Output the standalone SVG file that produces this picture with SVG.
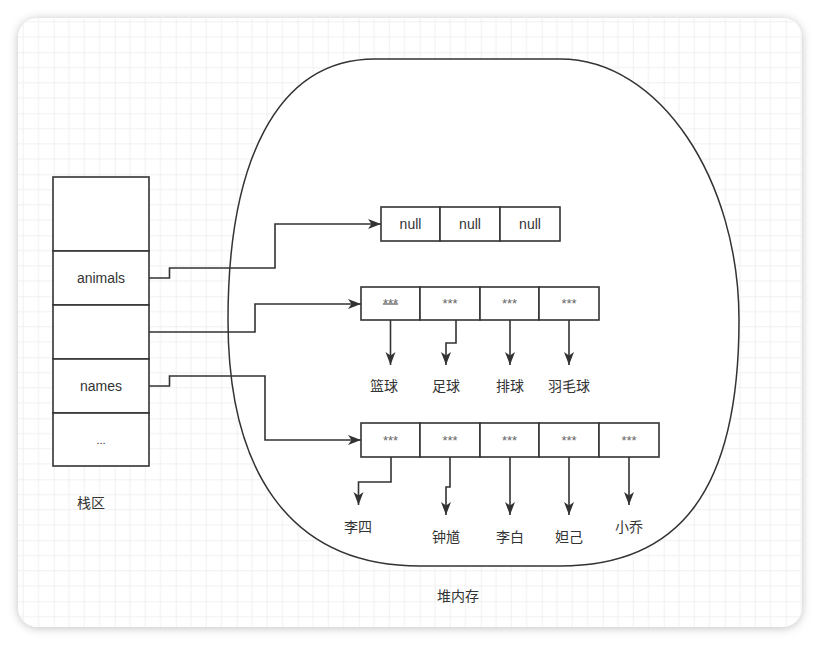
<svg xmlns="http://www.w3.org/2000/svg" width="820" height="646" viewBox="0 0 820 646">
<defs>
<pattern id="grid" patternUnits="userSpaceOnUse" x="53.7" y="52.3" width="61" height="61">
<path d="M15.25 0V61M30.5 0V61M45.75 0V61M0 15.25H61M0 30.5H61M0 45.75H61" stroke="#f0f0f0" stroke-width="1" fill="none"/>
<path d="M0 0V61M0 0H61" stroke="#e3e3e3" stroke-width="1" fill="none"/>
</pattern>
<filter id="shadow" x="-10%" y="-10%" width="120%" height="120%">
<feDropShadow dx="0" dy="1" stdDeviation="5" flood-color="#000" flood-opacity="0.25"/>
</filter>
<clipPath id="canvasClip"><rect x="18" y="18" width="784" height="609" rx="20"/></clipPath>
<marker id="arrow" markerUnits="userSpaceOnUse" markerWidth="14" markerHeight="11" refX="13" refY="5.5" orient="auto">
<path d="M0,0.5 L13,5.5 L0,10.5 L3.5,5.5 Z" fill="#333"/>
</marker>
<style>
.box{fill:#fff;stroke:#333;stroke-width:1.6}
.heap{fill:#fff;stroke:#333;stroke-width:1.5}
.conn{fill:none;stroke:#333;stroke-width:1.6;marker-end:url(#arrow)}
.t{font-family:"Liberation Sans","Noto Sans CJK SC",sans-serif;font-size:14px;fill:#333;text-anchor:middle}
.cjk{font-family:"Noto Sans CJK SC","Liberation Sans",sans-serif;font-size:14px;fill:#333;text-anchor:middle}
.star{font-family:"Liberation Sans",sans-serif;font-size:13px;fill:#666;text-anchor:middle}
</style>
</defs>

<rect x="18" y="18" width="784" height="609" rx="20" fill="#fff" filter="url(#shadow)"/>
<rect x="18" y="18" width="784" height="609" fill="url(#grid)" clip-path="url(#canvasClip)"/>

<g id="heap">
<path class="heap" d="M375 59 L560 59 C660 59 739 180 739 320 C739 490 680 566 560 566 L420 566 C285 566 228 465 228 320 C228 165 275 59 375 59 Z"/>
<text class="cjk" x="458" y="601">堆内存</text>
</g>

<g id="stack">
<rect class="box" x="53" y="177" width="96" height="74"/>
<rect class="box" x="53" y="251" width="96" height="54"/>
<rect class="box" x="53" y="305" width="96" height="54"/>
<rect class="box" x="53" y="359" width="96" height="54"/>
<rect class="box" x="53" y="413" width="96" height="53"/>
<text class="t" x="101" y="283">animals</text>
<text class="t" x="101" y="391">names</text>
<text class="t" x="101" y="444" style="font-size:11px">...</text>
</g>
<g id="stack-label"><text class="cjk" x="91" y="508">栈区</text></g>

<g id="animals-array">
<rect class="box" x="381" y="207" width="59" height="34"/>
<rect class="box" x="440" y="207" width="60" height="34"/>
<rect class="box" x="500" y="207" width="60" height="34"/>
<text class="t" x="410.5" y="229">null</text>
<text class="t" x="470" y="229">null</text>
<text class="t" x="530" y="229">null</text>
</g>

<g id="hobby-array">
<rect class="box" x="361" y="287" width="59" height="33"/>
<rect class="box" x="420" y="287" width="60" height="33"/>
<rect class="box" x="480" y="287" width="59" height="33"/>
<rect class="box" x="539" y="287" width="60" height="33"/>
<text class="star" x="390.5" y="308" text-decoration="line-through">***</text>
<text class="star" x="450" y="308">***</text>
<text class="star" x="509.5" y="308">***</text>
<text class="star" x="569" y="308">***</text>
</g>

<g id="names-array">
<rect class="box" x="361" y="423" width="59" height="34"/>
<rect class="box" x="420" y="423" width="60" height="34"/>
<rect class="box" x="480" y="423" width="59" height="34"/>
<rect class="box" x="539" y="423" width="60" height="34"/>
<rect class="box" x="599" y="423" width="60" height="34"/>
<text class="star" x="390.5" y="444.5">***</text>
<text class="star" x="450" y="444.5">***</text>
<text class="star" x="509.5" y="444.5">***</text>
<text class="star" x="569" y="444.5">***</text>
<text class="star" x="629" y="444.5">***</text>
</g>

<g id="label-lanqiu"><text class="cjk" x="384" y="391">篮球</text></g>
<g id="label-zuqiu"><text class="cjk" x="446" y="391">足球</text></g>
<g id="label-paiqiu"><text class="cjk" x="510" y="391">排球</text></g>
<g id="label-yumaoqiu"><text class="cjk" x="569" y="391">羽毛球</text></g>
<g id="label-lisi"><text class="cjk" x="358" y="532">李四</text></g>
<g id="label-zhongkui"><text class="cjk" x="446" y="542">钟馗</text></g>
<g id="label-libai"><text class="cjk" x="510" y="542">李白</text></g>
<g id="label-daji"><text class="cjk" x="569" y="542">妲己</text></g>
<g id="label-xiaoqiao"><text class="cjk" x="629" y="532">小乔</text></g>

<g id="connectors">
<path class="conn" d="M149 278 H169.5 V268 H275 V224 H381"/>
<path class="conn" d="M149 332 H255 V304 H361"/>
<path class="conn" d="M149 386 H169.5 V376 H265 V440 H361"/>
<path class="conn" d="M390.5 320 V365"/>
<path class="conn" d="M456 320 V343 H446 V365"/>
<path class="conn" d="M510 320 V365"/>
<path class="conn" d="M569 320 V365"/>
<path class="conn" d="M391 457 V482 H358.5 V505"/>
<path class="conn" d="M450 457 V487 H446 V515"/>
<path class="conn" d="M510 457 V515"/>
<path class="conn" d="M569 457 V515"/>
<path class="conn" d="M629 457 V505"/>
</g>
</svg>
